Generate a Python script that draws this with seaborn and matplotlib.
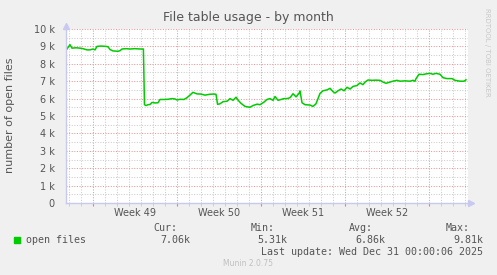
import matplotlib
matplotlib.use("Agg")
import matplotlib.pyplot as plt
from matplotlib.ticker import MultipleLocator, FuncFormatter
from matplotlib.transforms import blended_transform_factory
import seaborn as sns
import pandas as pd

# ---- data (days since Mon Dec 1 2025, open files in thousands) ----
days = [-2.17, -1.92, -1.75, -1.42, -1.08, -0.83, -0.5, -0.25, 0.0, 0.17, 0.33, 0.67,
        1.08, 1.25, 1.42, 1.67, 2.08, 2.25, 2.42, 2.75, 3.08, 3.5, 3.92, 4.2, 4.29, 4.42,
        4.58, 4.75, 4.92, 5.17, 5.42, 5.58, 5.92, 6.25, 6.58, 6.83, 7.0, 7.25, 7.58, 7.83,
        8.08, 8.33, 8.67, 9.0, 9.33, 9.75, 10.08, 10.25, 10.38, 10.58, 10.83, 11.17, 11.42,
        11.67, 11.92, 12.08, 12.33, 12.67, 13.08, 13.33, 13.67, 13.92, 14.25, 14.5, 14.75,
        15.0, 15.17, 15.42, 15.67, 15.92, 16.17, 16.42, 16.67, 16.92, 17.17, 17.25, 17.42,
        17.67, 18.08, 18.33, 18.58, 18.92, 19.17, 19.5, 19.75, 20.0, 20.17, 20.42, 20.67,
        20.92, 21.17, 21.42, 21.67, 22.0, 22.25, 22.5, 22.67, 22.92, 23.25, 23.58, 23.92,
        24.17, 24.42, 24.75, 25.0, 25.33, 25.58, 26.0, 26.42, 26.67, 26.83, 26.92, 27.17,
        27.5, 27.75, 28.08, 28.33, 28.58, 28.92, 29.17, 29.5, 29.92, 30.17, 30.58, 30.92,
        31.08]
open_files_k = [8.85, 9.10, 8.90, 8.92, 8.90, 8.87, 8.80, 8.80, 8.85, 8.80, 9.00, 9.02,
                9.00, 8.98, 8.82, 8.74, 8.72, 8.75, 8.85, 8.87, 8.85, 8.87, 8.85, 8.85, 5.65, 5.60,
                5.65, 5.66, 5.78, 5.75, 5.76, 5.95, 5.95, 5.96, 6.00, 5.98, 5.92, 5.96, 5.95, 6.05,
                6.20, 6.36, 6.27, 6.26, 6.20, 6.25, 6.26, 6.25, 5.67, 5.70, 5.82, 5.85, 6.00,
                5.90, 6.08, 5.92, 5.73, 5.55, 5.50, 5.60, 5.68, 5.65, 5.80, 5.95, 6.00,
                5.90, 6.12, 5.90, 5.95, 6.00, 6.00, 6.05, 6.28, 6.10, 6.30, 6.44, 5.76,
                5.65, 5.63, 5.55, 5.70, 6.30, 6.45, 6.50, 6.59, 6.40, 6.32, 6.45, 6.55,
                6.45, 6.65, 6.55, 6.70, 6.75, 6.90, 6.80, 6.95, 7.07, 7.05, 7.06, 7.05,
                6.95, 6.88, 6.95, 7.00, 7.05, 7.00, 7.02, 7.00, 7.05, 7.00, 7.15, 7.40,
                7.38, 7.42, 7.45, 7.40, 7.45, 7.40, 7.20, 7.15, 7.15, 7.05, 7.00, 7.00,
                7.08]
week_starts = [0, 7, 14, 21]
week_labels = ["Week 49", "Week 50", "Week 51", "Week 52"]
stat_names = ["Cur:", "Min:", "Avg:", "Max:"]
stat_values = ["7.06k", "5.31k", "6.86k", "9.81k"]
series_name = "open files"
title = "File table usage - by month"
ylabel = "number of open files"
last_update = "Last update: Wed Dec 31 00:00:06 2025"
version = "Munin 2.0.75"
x_range = (-2.25, 31.25)

df = pd.DataFrame({"day": days, "files": [v * 1000 for v in open_files_k]})

W, H = 497, 275
fig = plt.figure(figsize=(W / 100, H / 100), dpi=100, facecolor="#F0F0F0")
ax = fig.add_axes([66 / W, 1 - 203 / H, 402 / W, 174 / H])
ax.set_facecolor("white")

sns.lineplot(data=df, x="day", y="files", ax=ax, color="#00CC00", linewidth=1.1,
             zorder=5, legend=False)

ax.set_xlim(*x_range)
ax.set_ylim(0, 10000)
ax.xaxis.set_major_locator(MultipleLocator(7))
ax.xaxis.set_minor_locator(MultipleLocator(1))
ax.yaxis.set_major_locator(MultipleLocator(1000))
ax.yaxis.set_minor_locator(MultipleLocator(500))
ax.xaxis.set_major_formatter(FuncFormatter(lambda v, p: ""))
ax.yaxis.set_major_formatter(FuncFormatter(lambda v, p: "0" if v == 0 else f"{int(v/1000)} k"))
dot = (0, (1, 1.5))
ax.grid(which="minor", color="#CCCCCC", linestyle=dot, linewidth=0.75)
ax.grid(which="major", color="#E89898", linestyle=dot, linewidth=0.75)
ax.set_axisbelow(True)
ax.tick_params(axis="y", which="both", length=0, labelsize=7, labelcolor="#555555", pad=8)
ax.tick_params(axis="x", which="major", length=2, color="#E08080", direction="out")
ax.tick_params(axis="x", which="minor", length=2, color="#C8C8C8", direction="out")
for s in ax.spines.values():
    s.set_visible(False)
ax.set_xlabel("")
ax.set_ylabel("")

# axis lines with arrows
axc = "#C8C8F0"
ax.plot([0, 1.0], [0, 0], transform=ax.transAxes, color=axc, lw=1, clip_on=False, zorder=6)
ax.plot([0, 0], [0, 1.0], transform=ax.transAxes, color=axc, lw=1, clip_on=False, zorder=6)
ax.plot([1.008], [0], marker=">", markersize=5, color=axc, transform=ax.transAxes, clip_on=False)
ax.plot([0], [1.02], marker="^", markersize=5, color=axc, transform=ax.transAxes, clip_on=False)

trans = blended_transform_factory(ax.transData, ax.transAxes)
for ws, lab in zip(week_starts, week_labels):
    ax.text(ws + 3.5, -0.057, lab, transform=trans, ha="center", va="center",
            fontsize=7, color="#555555")

def ft(x, y, s, **kw):
    fig.text(x / W, 1 - y / H, s, **kw)

ft(248, 18, title, ha="center", va="center", fontsize=9, color="#555555")
ft(10, 115, ylabel, ha="center", va="center", rotation=90, fontsize=8, color="#555555")
ft(487, 52, "RRDTOOL / TOBI OETIKER", ha="center", va="center", rotation=270,
   fontsize=5, color="#C8C8C8")

mono = dict(family="DejaVu Sans Mono", fontsize=7.2, color="#555555", va="center")
fig.patches.append(plt.Rectangle((14 / W, 1 - 243 / H), 6 / W, 6 / H, color="#00CC00",
                                 transform=fig.transFigure, figure=fig))
ft(26, 240, series_name, ha="left", **mono)
stat_right = [177, 275, 373, 470]
val_right = [190, 287, 385, 483]
for n, v, xr, xv in zip(stat_names, stat_values, stat_right, val_right):
    ft(xr, 228, n, ha="right", **mono)
    ft(xv, 240, v, ha="right", **mono)
ft(483, 252, last_update, ha="right", **mono)
ft(248, 264, version, ha="center", va="center", fontsize=5.5, color="#C0C0C0")

fig.savefig("out.png", dpi=100, facecolor=fig.get_facecolor())
